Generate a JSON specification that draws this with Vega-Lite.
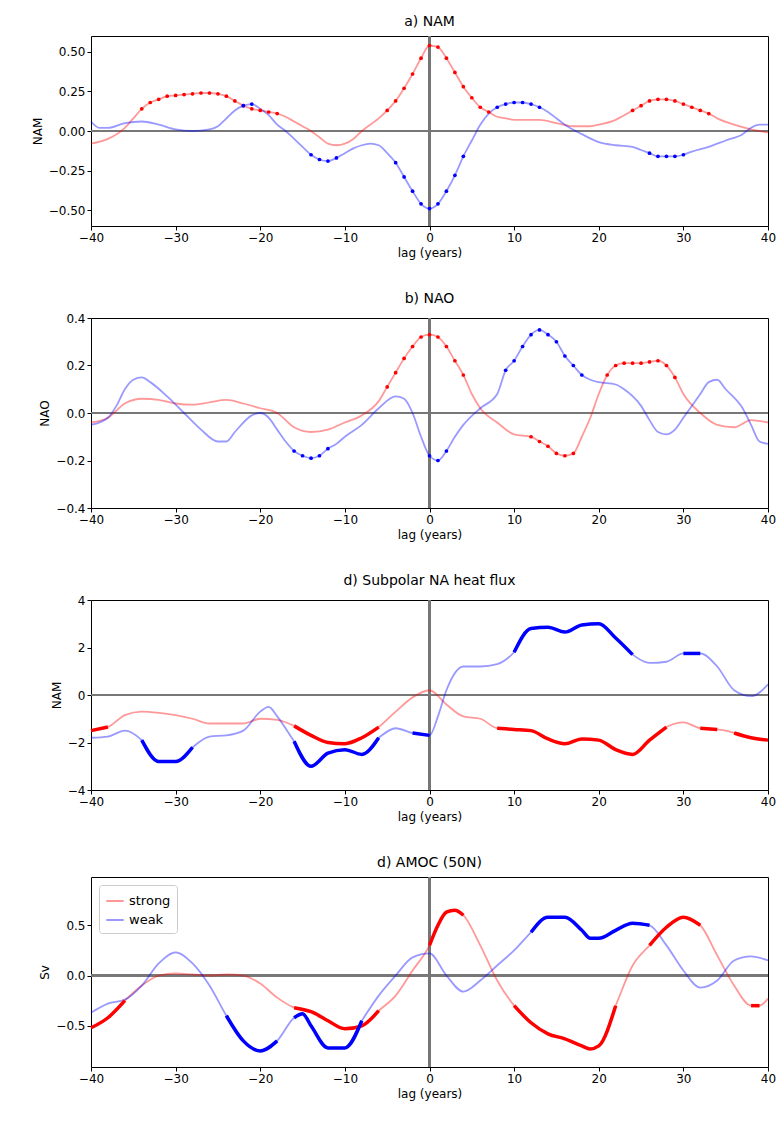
{
"$schema": "https://vega.github.io/schema/vega-lite/v6.json",
"padding": {"left": 30, "top": 14, "right": 5, "bottom": 5},
"config": {"font": "DejaVu Sans", "view": {"stroke": "black"}, "axis": {"grid": false, "domain": false, "tickColor": "black", "labelColor": "black", "titleColor": "black", "labelFontSize": 12, "titleFontSize": 12, "titleFontWeight": "normal", "tickSize": 4, "labelFlush": false}, "title": {"fontSize": 14, "fontWeight": "normal", "offset": 6}, "concat": {"spacing": 32}, "scale": {"continuousPadding": 0}},
"resolve": {"scale": {"color": "independent"}},
"datasets": {
"d1": [
{"g":"strong","x":-40,"y":-0.08},{"g":"strong","x":-38,"y":-0.05},{"g":"strong","x":-36,"y":0.02},{"g":"strong","x":-35,"y":0.08},
{"g":"strong","x":-34,"y":0.14,"s":1},{"g":"strong","x":-33,"y":0.18,"s":1},{"g":"strong","x":-32,"y":0.2,"s":1},{"g":"strong","x":-31,"y":0.22,"s":1},{"g":"strong","x":-30,"y":0.225,"s":1},{"g":"strong","x":-29,"y":0.23,"s":1},{"g":"strong","x":-28,"y":0.235,"s":1},{"g":"strong","x":-27,"y":0.24,"s":1},{"g":"strong","x":-26,"y":0.24,"s":1},{"g":"strong","x":-25,"y":0.235,"s":1},{"g":"strong","x":-24,"y":0.22,"s":1},{"g":"strong","x":-23,"y":0.19,"s":1},{"g":"strong","x":-22,"y":0.16,"s":1},{"g":"strong","x":-21,"y":0.14,"s":1},{"g":"strong","x":-20,"y":0.13,"s":1},{"g":"strong","x":-19,"y":0.12,"s":1},{"g":"strong","x":-18,"y":0.11,"s":1},
{"g":"strong","x":-17,"y":0.09},{"g":"strong","x":-16,"y":0.06},{"g":"strong","x":-15,"y":0.03},{"g":"strong","x":-14,"y":0.0},{"g":"strong","x":-13,"y":-0.04},{"g":"strong","x":-12,"y":-0.08},{"g":"strong","x":-11,"y":-0.09},{"g":"strong","x":-10,"y":-0.08},{"g":"strong","x":-9,"y":-0.05},{"g":"strong","x":-8,"y":0.0},{"g":"strong","x":-7,"y":0.04},{"g":"strong","x":-6,"y":0.08},
{"g":"strong","x":-5,"y":0.13,"s":1},{"g":"strong","x":-4,"y":0.19,"s":1},{"g":"strong","x":-3,"y":0.27,"s":1},{"g":"strong","x":-2,"y":0.36,"s":1},{"g":"strong","x":-1,"y":0.46,"s":1},{"g":"strong","x":0,"y":0.54,"s":1},{"g":"strong","x":1,"y":0.53,"s":1},{"g":"strong","x":2,"y":0.46,"s":1},{"g":"strong","x":3,"y":0.37,"s":1},{"g":"strong","x":4,"y":0.28,"s":1},{"g":"strong","x":5,"y":0.21,"s":1},{"g":"strong","x":6,"y":0.15,"s":1},{"g":"strong","x":7,"y":0.12,"s":1},
{"g":"strong","x":8,"y":0.09},{"g":"strong","x":9,"y":0.08},{"g":"strong","x":10,"y":0.07},{"g":"strong","x":13,"y":0.07},{"g":"strong","x":15,"y":0.05},{"g":"strong","x":17,"y":0.03},{"g":"strong","x":19,"y":0.03},{"g":"strong","x":20,"y":0.04},{"g":"strong","x":22,"y":0.07},{"g":"strong","x":23,"y":0.1},
{"g":"strong","x":24,"y":0.13,"s":1},{"g":"strong","x":25,"y":0.16,"s":1},{"g":"strong","x":26,"y":0.19,"s":1},{"g":"strong","x":27,"y":0.2,"s":1},{"g":"strong","x":28,"y":0.2,"s":1},{"g":"strong","x":29,"y":0.19,"s":1},{"g":"strong","x":30,"y":0.17,"s":1},{"g":"strong","x":31,"y":0.15,"s":1},{"g":"strong","x":32,"y":0.13,"s":1},{"g":"strong","x":33,"y":0.11,"s":1},
{"g":"strong","x":34,"y":0.08},{"g":"strong","x":36,"y":0.04},{"g":"strong","x":38,"y":0.01},{"g":"strong","x":40,"y":-0.01},
{"g":"weak","x":-40,"y":0.06},{"g":"weak","x":-39,"y":0.02},{"g":"weak","x":-38,"y":0.02},{"g":"weak","x":-36,"y":0.05},{"g":"weak","x":-34,"y":0.06},{"g":"weak","x":-32,"y":0.04},{"g":"weak","x":-30,"y":0.01},{"g":"weak","x":-28,"y":0.0},{"g":"weak","x":-26,"y":0.01},{"g":"weak","x":-25,"y":0.03},{"g":"weak","x":-24,"y":0.08},{"g":"weak","x":-23,"y":0.13},
{"g":"weak","x":-22,"y":0.16,"s":1},{"g":"weak","x":-21,"y":0.17,"s":1},
{"g":"weak","x":-20,"y":0.14},{"g":"weak","x":-19,"y":0.1},{"g":"weak","x":-18,"y":0.04},{"g":"weak","x":-17,"y":0.0},{"g":"weak","x":-16,"y":-0.05},{"g":"weak","x":-15,"y":-0.1},
{"g":"weak","x":-14,"y":-0.15,"s":1},{"g":"weak","x":-13,"y":-0.18,"s":1},{"g":"weak","x":-12,"y":-0.19,"s":1},{"g":"weak","x":-11,"y":-0.17,"s":1},
{"g":"weak","x":-10,"y":-0.14},{"g":"weak","x":-9,"y":-0.11},{"g":"weak","x":-8,"y":-0.09},{"g":"weak","x":-7,"y":-0.08},{"g":"weak","x":-6,"y":-0.09},{"g":"weak","x":-5,"y":-0.14},
{"g":"weak","x":-4,"y":-0.2,"s":1},{"g":"weak","x":-3,"y":-0.29,"s":1},{"g":"weak","x":-2,"y":-0.38,"s":1},{"g":"weak","x":-1,"y":-0.46,"s":1},{"g":"weak","x":0,"y":-0.49,"s":1},{"g":"weak","x":1,"y":-0.46,"s":1},{"g":"weak","x":2,"y":-0.38,"s":1},{"g":"weak","x":3,"y":-0.28,"s":1},{"g":"weak","x":4,"y":-0.16,"s":1},
{"g":"weak","x":5,"y":-0.06},{"g":"weak","x":6,"y":0.04},{"g":"weak","x":7,"y":0.11},
{"g":"weak","x":8,"y":0.15,"s":1},{"g":"weak","x":9,"y":0.17,"s":1},{"g":"weak","x":10,"y":0.18,"s":1},{"g":"weak","x":11,"y":0.18,"s":1},{"g":"weak","x":12,"y":0.17,"s":1},{"g":"weak","x":13,"y":0.15,"s":1},
{"g":"weak","x":14,"y":0.12},{"g":"weak","x":15,"y":0.08},{"g":"weak","x":16,"y":0.04},{"g":"weak","x":18,"y":-0.02},{"g":"weak","x":20,"y":-0.07},{"g":"weak","x":22,"y":-0.09},{"g":"weak","x":24,"y":-0.1},{"g":"weak","x":25,"y":-0.12},
{"g":"weak","x":26,"y":-0.14,"s":1},{"g":"weak","x":27,"y":-0.16,"s":1},{"g":"weak","x":28,"y":-0.16,"s":1},{"g":"weak","x":29,"y":-0.16,"s":1},{"g":"weak","x":30,"y":-0.15,"s":1},
{"g":"weak","x":31,"y":-0.13},{"g":"weak","x":33,"y":-0.1},{"g":"weak","x":35,"y":-0.06},{"g":"weak","x":37,"y":-0.02},{"g":"weak","x":38,"y":0.02},{"g":"weak","x":39,"y":0.04},{"g":"weak","x":40,"y":0.04}
],
"d2": [
{"g":"strong","x":-40,"y":-0.04},{"g":"strong","x":-38,"y":-0.02},{"g":"strong","x":-36,"y":0.04},{"g":"strong","x":-34,"y":0.06},{"g":"strong","x":-32,"y":0.055},{"g":"strong","x":-30,"y":0.04},{"g":"strong","x":-28,"y":0.035},{"g":"strong","x":-26,"y":0.045},{"g":"strong","x":-24,"y":0.055},{"g":"strong","x":-22,"y":0.04},{"g":"strong","x":-20,"y":0.02},{"g":"strong","x":-18,"y":0.0},{"g":"strong","x":-16,"y":-0.06},{"g":"strong","x":-14,"y":-0.08},{"g":"strong","x":-12,"y":-0.07},{"g":"strong","x":-10,"y":-0.04},{"g":"strong","x":-8,"y":-0.01},{"g":"strong","x":-6,"y":0.05},
{"g":"strong","x":-5,"y":0.11,"s":1},{"g":"strong","x":-4,"y":0.17,"s":1},{"g":"strong","x":-3,"y":0.23,"s":1},{"g":"strong","x":-2,"y":0.28,"s":1},{"g":"strong","x":-1,"y":0.32,"s":1},{"g":"strong","x":0,"y":0.33,"s":1},{"g":"strong","x":1,"y":0.32,"s":1},{"g":"strong","x":2,"y":0.28,"s":1},{"g":"strong","x":3,"y":0.22,"s":1},{"g":"strong","x":4,"y":0.16,"s":1},
{"g":"strong","x":5,"y":0.08},{"g":"strong","x":6,"y":0.02},{"g":"strong","x":8,"y":-0.04},{"g":"strong","x":10,"y":-0.09},
{"g":"strong","x":12,"y":-0.1,"s":1},{"g":"strong","x":13,"y":-0.12,"s":1},{"g":"strong","x":14,"y":-0.14,"s":1},{"g":"strong","x":15,"y":-0.17,"s":1},{"g":"strong","x":16,"y":-0.18,"s":1},{"g":"strong","x":17,"y":-0.17,"s":1},
{"g":"strong","x":18,"y":-0.1},{"g":"strong","x":19,"y":-0.02},{"g":"strong","x":20,"y":0.08},
{"g":"strong","x":21,"y":0.16,"s":1},{"g":"strong","x":22,"y":0.2,"s":1},{"g":"strong","x":23,"y":0.21,"s":1},{"g":"strong","x":24,"y":0.21,"s":1},{"g":"strong","x":25,"y":0.21,"s":1},{"g":"strong","x":26,"y":0.215,"s":1},{"g":"strong","x":27,"y":0.22,"s":1},{"g":"strong","x":28,"y":0.2,"s":1},{"g":"strong","x":29,"y":0.15,"s":1},
{"g":"strong","x":30,"y":0.08},{"g":"strong","x":32,"y":0.0},{"g":"strong","x":34,"y":-0.05},{"g":"strong","x":36,"y":-0.06},{"g":"strong","x":38,"y":-0.03},{"g":"strong","x":40,"y":-0.04},
{"g":"weak","x":-40,"y":-0.05},{"g":"weak","x":-38,"y":-0.02},{"g":"weak","x":-37,"y":0.03},{"g":"weak","x":-36,"y":0.1},{"g":"weak","x":-35,"y":0.14},{"g":"weak","x":-34,"y":0.15},{"g":"weak","x":-33,"y":0.13},{"g":"weak","x":-31,"y":0.07},{"g":"weak","x":-29,"y":0.0},{"g":"weak","x":-27,"y":-0.07},{"g":"weak","x":-25,"y":-0.12},{"g":"weak","x":-24,"y":-0.12},{"g":"weak","x":-23,"y":-0.08},{"g":"weak","x":-21,"y":-0.01},{"g":"weak","x":-20,"y":0.0},{"g":"weak","x":-19,"y":-0.02},{"g":"weak","x":-18,"y":-0.07},{"g":"weak","x":-17,"y":-0.12},
{"g":"weak","x":-16,"y":-0.16,"s":1},{"g":"weak","x":-15,"y":-0.18,"s":1},{"g":"weak","x":-14,"y":-0.19,"s":1},{"g":"weak","x":-13,"y":-0.18,"s":1},{"g":"weak","x":-12,"y":-0.15,"s":1},
{"g":"weak","x":-11,"y":-0.13},{"g":"weak","x":-10,"y":-0.1},{"g":"weak","x":-8,"y":-0.05},{"g":"weak","x":-6,"y":0.02},{"g":"weak","x":-4,"y":0.07},{"g":"weak","x":-3,"y":0.06},{"g":"weak","x":-2,"y":0.0},{"g":"weak","x":-1,"y":-0.1},
{"g":"weak","x":0,"y":-0.18,"s":1},{"g":"weak","x":1,"y":-0.2,"s":1},{"g":"weak","x":2,"y":-0.16,"s":1},
{"g":"weak","x":3,"y":-0.1},{"g":"weak","x":4,"y":-0.05},{"g":"weak","x":6,"y":0.02},{"g":"weak","x":8,"y":0.08},
{"g":"weak","x":9,"y":0.18,"s":1},{"g":"weak","x":10,"y":0.22,"s":1},{"g":"weak","x":11,"y":0.28,"s":1},{"g":"weak","x":12,"y":0.33,"s":1},{"g":"weak","x":13,"y":0.35,"s":1},{"g":"weak","x":14,"y":0.33,"s":1},{"g":"weak","x":15,"y":0.3,"s":1},{"g":"weak","x":16,"y":0.24,"s":1},{"g":"weak","x":17,"y":0.2,"s":1},{"g":"weak","x":18,"y":0.16,"s":1},
{"g":"weak","x":19,"y":0.14},{"g":"weak","x":20,"y":0.13},{"g":"weak","x":22,"y":0.12},{"g":"weak","x":23,"y":0.1},{"g":"weak","x":25,"y":0.03},{"g":"weak","x":26,"y":-0.03},{"g":"weak","x":27,"y":-0.08},{"g":"weak","x":28,"y":-0.09},{"g":"weak","x":29,"y":-0.07},{"g":"weak","x":30,"y":-0.02},{"g":"weak","x":32,"y":0.08},{"g":"weak","x":33,"y":0.13},{"g":"weak","x":34,"y":0.14},{"g":"weak","x":35,"y":0.1},{"g":"weak","x":37,"y":0.02},{"g":"weak","x":38,"y":-0.05},{"g":"weak","x":39,"y":-0.12},{"g":"weak","x":40,"y":-0.13}
],
"d3": [
{"g":"strong","x":-40,"y":-1.5,"s":"A"},{"g":"strong","x":-38,"y":-1.35,"s":"A"},{"g":"strong","x":-36,"y":-0.85},{"g":"strong","x":-34,"y":-0.7},{"g":"strong","x":-32,"y":-0.75},{"g":"strong","x":-30,"y":-0.85},{"g":"strong","x":-28,"y":-1.0},{"g":"strong","x":-26,"y":-1.2},{"g":"strong","x":-24,"y":-1.2},{"g":"strong","x":-22,"y":-1.2},{"g":"strong","x":-20,"y":-1.0},{"g":"strong","x":-18,"y":-1.05},
{"g":"strong","x":-16,"y":-1.3,"s":"B"},{"g":"strong","x":-14,"y":-1.7,"s":"B"},{"g":"strong","x":-12,"y":-2.0,"s":"B"},{"g":"strong","x":-10,"y":-2.05,"s":"B"},{"g":"strong","x":-8,"y":-1.8,"s":"B"},{"g":"strong","x":-6,"y":-1.35,"s":"B"},
{"g":"strong","x":-4,"y":-0.7},{"g":"strong","x":-2,"y":-0.1},{"g":"strong","x":0,"y":0.2},{"g":"strong","x":2,"y":-0.4},{"g":"strong","x":4,"y":-0.9},{"g":"strong","x":6,"y":-1.0},
{"g":"strong","x":8,"y":-1.4,"s":"C"},{"g":"strong","x":10,"y":-1.45,"s":"C"},{"g":"strong","x":12,"y":-1.5,"s":"C"},{"g":"strong","x":14,"y":-1.85,"s":"C"},{"g":"strong","x":16,"y":-2.05,"s":"C"},{"g":"strong","x":18,"y":-1.85,"s":"C"},{"g":"strong","x":20,"y":-1.9,"s":"C"},{"g":"strong","x":22,"y":-2.3,"s":"C"},{"g":"strong","x":24,"y":-2.5,"s":"C"},{"g":"strong","x":26,"y":-1.9,"s":"C"},{"g":"strong","x":28,"y":-1.35,"s":"C"},
{"g":"strong","x":30,"y":-1.15},{"g":"strong","x":32,"y":-1.4,"s":"D"},{"g":"strong","x":34,"y":-1.45,"s":"D"},{"g":"strong","x":35,"y":-1.5},
{"g":"strong","x":36,"y":-1.6,"s":"E"},{"g":"strong","x":38,"y":-1.8,"s":"E"},{"g":"strong","x":40,"y":-1.9,"s":"E"},
{"g":"weak","x":-40,"y":-1.8},{"g":"weak","x":-38,"y":-1.75},{"g":"weak","x":-36,"y":-1.5},
{"g":"weak","x":-34,"y":-1.9,"s":"a"},{"g":"weak","x":-32,"y":-2.8,"s":"a"},{"g":"weak","x":-30,"y":-2.8,"s":"a"},{"g":"weak","x":-28,"y":-2.2,"s":"a"},
{"g":"weak","x":-26,"y":-1.75},{"g":"weak","x":-24,"y":-1.7},{"g":"weak","x":-22,"y":-1.5},{"g":"weak","x":-20,"y":-0.7},{"g":"weak","x":-19,"y":-0.5},{"g":"weak","x":-18,"y":-0.9},
{"g":"weak","x":-16,"y":-1.95,"s":"b"},{"g":"weak","x":-14,"y":-3.0,"s":"b"},{"g":"weak","x":-12,"y":-2.45,"s":"b"},{"g":"weak","x":-10,"y":-2.3,"s":"b"},{"g":"weak","x":-8,"y":-2.5,"s":"b"},{"g":"weak","x":-6,"y":-1.8,"s":"b"},
{"g":"weak","x":-4,"y":-1.4},{"g":"weak","x":-2,"y":-1.6,"s":"c"},{"g":"weak","x":0,"y":-1.7,"s":"c"},{"g":"weak","x":1,"y":-0.9},{"g":"weak","x":2,"y":0.2},{"g":"weak","x":4,"y":1.2},{"g":"weak","x":6,"y":1.2},{"g":"weak","x":8,"y":1.3},
{"g":"weak","x":10,"y":1.8,"s":"d"},{"g":"weak","x":12,"y":2.8,"s":"d"},{"g":"weak","x":14,"y":2.85,"s":"d"},{"g":"weak","x":16,"y":2.65,"s":"d"},{"g":"weak","x":18,"y":2.95,"s":"d"},{"g":"weak","x":20,"y":3.0,"s":"d"},{"g":"weak","x":22,"y":2.4,"s":"d"},{"g":"weak","x":24,"y":1.7,"s":"d"},
{"g":"weak","x":26,"y":1.35},{"g":"weak","x":28,"y":1.4},{"g":"weak","x":30,"y":1.75,"s":"e"},{"g":"weak","x":32,"y":1.75,"s":"e"},{"g":"weak","x":34,"y":1.2},{"g":"weak","x":36,"y":0.2},{"g":"weak","x":38,"y":-0.05},{"g":"weak","x":40,"y":0.45}
],
"d4": [
{"g":"strong","x":-40,"y":-0.52,"s":"A"},{"g":"strong","x":-38,"y":-0.42,"s":"A"},{"g":"strong","x":-36,"y":-0.25,"s":"A"},{"g":"strong","x":-34,"y":-0.1},{"g":"strong","x":-32,"y":0.0},{"g":"strong","x":-30,"y":0.02},{"g":"strong","x":-28,"y":0.01},{"g":"strong","x":-26,"y":0.0},{"g":"strong","x":-24,"y":0.01},{"g":"strong","x":-22,"y":0.0},{"g":"strong","x":-20,"y":-0.08},{"g":"strong","x":-18,"y":-0.22},
{"g":"strong","x":-16,"y":-0.32,"s":"B"},{"g":"strong","x":-14,"y":-0.36,"s":"B"},{"g":"strong","x":-12,"y":-0.45,"s":"B"},{"g":"strong","x":-10,"y":-0.53,"s":"B"},{"g":"strong","x":-8,"y":-0.5,"s":"B"},{"g":"strong","x":-6,"y":-0.35,"s":"B"},
{"g":"strong","x":-4,"y":-0.2},{"g":"strong","x":-2,"y":0.05},
{"g":"strong","x":0,"y":0.3,"s":"C"},{"g":"strong","x":1,"y":0.5,"s":"C"},{"g":"strong","x":2,"y":0.63,"s":"C"},{"g":"strong","x":3,"y":0.65,"s":"C"},{"g":"strong","x":4,"y":0.6,"s":"C"},
{"g":"strong","x":6,"y":0.3},{"g":"strong","x":8,"y":-0.05},
{"g":"strong","x":10,"y":-0.3,"s":"D"},{"g":"strong","x":12,"y":-0.47,"s":"D"},{"g":"strong","x":14,"y":-0.58,"s":"D"},{"g":"strong","x":16,"y":-0.63,"s":"D"},{"g":"strong","x":18,"y":-0.7,"s":"D"},{"g":"strong","x":19,"y":-0.73,"s":"D"},{"g":"strong","x":20,"y":-0.7,"s":"D"},{"g":"strong","x":22,"y":-0.3,"s":"D"},
{"g":"strong","x":24,"y":0.1},
{"g":"strong","x":26,"y":0.3,"s":"E"},{"g":"strong","x":28,"y":0.48,"s":"E"},{"g":"strong","x":30,"y":0.58,"s":"E"},{"g":"strong","x":32,"y":0.5,"s":"E"},
{"g":"strong","x":34,"y":0.2},{"g":"strong","x":36,"y":-0.1},{"g":"strong","x":38,"y":-0.3,"s":"F"},{"g":"strong","x":39,"y":-0.3,"s":"F"},{"g":"strong","x":40,"y":-0.23},
{"g":"weak","x":-40,"y":-0.37},{"g":"weak","x":-38,"y":-0.28},{"g":"weak","x":-36,"y":-0.24},{"g":"weak","x":-34,"y":-0.1},{"g":"weak","x":-32,"y":0.12},{"g":"weak","x":-30,"y":0.23},{"g":"weak","x":-28,"y":0.12},{"g":"weak","x":-26,"y":-0.1},
{"g":"weak","x":-24,"y":-0.4,"s":"a"},{"g":"weak","x":-22,"y":-0.65,"s":"a"},{"g":"weak","x":-20,"y":-0.75,"s":"a"},{"g":"weak","x":-18,"y":-0.65,"s":"a"},
{"g":"weak","x":-16,"y":-0.42,"s":"b"},{"g":"weak","x":-15,"y":-0.38,"s":"b"},{"g":"weak","x":-14,"y":-0.5,"s":"b"},{"g":"weak","x":-12,"y":-0.72,"s":"b"},{"g":"weak","x":-10,"y":-0.72,"s":"b"},{"g":"weak","x":-8,"y":-0.45,"s":"b"},
{"g":"weak","x":-6,"y":-0.2},{"g":"weak","x":-4,"y":0.0},{"g":"weak","x":-2,"y":0.18},{"g":"weak","x":0,"y":0.22},{"g":"weak","x":2,"y":0.0},{"g":"weak","x":4,"y":-0.16},{"g":"weak","x":6,"y":-0.05},{"g":"weak","x":8,"y":0.1},{"g":"weak","x":10,"y":0.25},
{"g":"weak","x":12,"y":0.43,"s":"c"},{"g":"weak","x":14,"y":0.58,"s":"c"},{"g":"weak","x":16,"y":0.58,"s":"c"},{"g":"weak","x":18,"y":0.45,"s":"c"},{"g":"weak","x":19,"y":0.37,"s":"c"},{"g":"weak","x":20,"y":0.37,"s":"c"},{"g":"weak","x":22,"y":0.45,"s":"c"},{"g":"weak","x":24,"y":0.52,"s":"c"},{"g":"weak","x":26,"y":0.5,"s":"c"},
{"g":"weak","x":28,"y":0.3},{"g":"weak","x":30,"y":0.05},{"g":"weak","x":32,"y":-0.12},{"g":"weak","x":34,"y":-0.05},{"g":"weak","x":36,"y":0.15},{"g":"weak","x":38,"y":0.19},{"g":"weak","x":40,"y":0.15}
]
},
"vconcat": [
{
"title": "a) NAM", "width": 677, "height": 190, "data": {"name": "d1"},
"layer": [
{"mark": {"type": "rule", "color": "#777", "strokeWidth": 1.5}, "encoding": {"y": {"datum": 0}}},
{"mark": {"type": "rule", "color": "#777", "strokeWidth": 1.5}, "encoding": {"x": {"datum": 0}}},
{"mark": {"type": "line", "opacity": 0.4, "strokeWidth": 1.8, "interpolate": "monotone"},
 "encoding": {
  "x": {"field": "x", "type": "quantitative", "scale": {"domain": [-40, 40], "nice": false, "padding": 0, "zero": false}, "axis": {"values": [-40,-30,-20,-10,0,10,20,30,40]}, "title": "lag (years)"},
  "y": {"field": "y", "type": "quantitative", "scale": {"domain": [-0.6, 0.6], "nice": false, "padding": 0}, "axis": {"values": [-0.5,-0.25,0,0.25,0.5], "format": ".2f"}, "title": "NAM"},
  "color": {"field": "g", "type": "nominal", "scale": {"domain": ["strong","weak"], "range": ["#ff0000","#0000ff"]}, "legend": null}}},
{"transform": [{"filter": "datum.s != null"}], "mark": {"type": "circle", "size": 14, "opacity": 1},
 "encoding": {"x": {"field": "x", "type": "quantitative"}, "y": {"field": "y", "type": "quantitative"},
  "color": {"field": "g", "type": "nominal", "scale": {"domain": ["strong","weak"], "range": ["#ff0000","#0000ff"]}, "legend": null}}}
]
},
{
"title": "b) NAO", "width": 677, "height": 190, "data": {"name": "d2"},
"layer": [
{"mark": {"type": "rule", "color": "#777", "strokeWidth": 1.5}, "encoding": {"y": {"datum": 0}}},
{"mark": {"type": "rule", "color": "#777", "strokeWidth": 1.5}, "encoding": {"x": {"datum": 0}}},
{"mark": {"type": "line", "opacity": 0.4, "strokeWidth": 1.8, "interpolate": "monotone"},
 "encoding": {
  "x": {"field": "x", "type": "quantitative", "scale": {"domain": [-40, 40], "nice": false, "padding": 0, "zero": false}, "axis": {"values": [-40,-30,-20,-10,0,10,20,30,40]}, "title": "lag (years)"},
  "y": {"field": "y", "type": "quantitative", "scale": {"domain": [-0.4, 0.4], "nice": false, "padding": 0}, "axis": {"values": [-0.4,-0.2,0,0.2,0.4], "format": ".1f"}, "title": "NAO"},
  "color": {"field": "g", "type": "nominal", "scale": {"domain": ["strong","weak"], "range": ["#ff0000","#0000ff"]}, "legend": null}}},
{"transform": [{"filter": "datum.s != null"}], "mark": {"type": "circle", "size": 14, "opacity": 1},
 "encoding": {"x": {"field": "x", "type": "quantitative"}, "y": {"field": "y", "type": "quantitative"},
  "color": {"field": "g", "type": "nominal", "scale": {"domain": ["strong","weak"], "range": ["#ff0000","#0000ff"]}, "legend": null}}}
]
},
{
"title": "d) Subpolar NA heat flux", "width": 677, "height": 190, "data": {"name": "d3"},
"layer": [
{"mark": {"type": "rule", "color": "#777", "strokeWidth": 1.5}, "encoding": {"y": {"datum": 0}}},
{"mark": {"type": "rule", "color": "#777", "strokeWidth": 1.5}, "encoding": {"x": {"datum": 0}}},
{"mark": {"type": "line", "opacity": 0.4, "strokeWidth": 1.8, "interpolate": "monotone"},
 "encoding": {
  "x": {"field": "x", "type": "quantitative", "scale": {"domain": [-40, 40], "nice": false, "padding": 0, "zero": false}, "axis": {"values": [-40,-30,-20,-10,0,10,20,30,40]}, "title": "lag (years)"},
  "y": {"field": "y", "type": "quantitative", "scale": {"domain": [-4, 4], "nice": false, "padding": 0}, "axis": {"values": [-4,-2,0,2,4]}, "title": "NAM"},
  "color": {"field": "g", "type": "nominal", "scale": {"domain": ["strong","weak"], "range": ["#ff0000","#0000ff"]}, "legend": null}}},
{"transform": [{"filter": "datum.s != null"}], "mark": {"type": "line", "strokeWidth": 3.5, "interpolate": "monotone"},
 "encoding": {"x": {"field": "x", "type": "quantitative"}, "y": {"field": "y", "type": "quantitative"}, "detail": {"field": "s"},
  "color": {"field": "g", "type": "nominal", "scale": {"domain": ["strong","weak"], "range": ["#ff0000","#0000ff"]}, "legend": null}}}
]
},
{
"title": "d) AMOC (50N)", "width": 677, "height": 190, "data": {"name": "d4"},
"layer": [
{"mark": {"type": "rule", "color": "#777", "strokeWidth": 1.5}, "encoding": {"y": {"datum": 0}}},
{"mark": {"type": "rule", "color": "#777", "strokeWidth": 1.5}, "encoding": {"x": {"datum": 0}}},
{"mark": {"type": "line", "opacity": 0.4, "strokeWidth": 1.8, "interpolate": "monotone"},
 "encoding": {
  "x": {"field": "x", "type": "quantitative", "scale": {"domain": [-40, 40], "nice": false, "padding": 0, "zero": false}, "axis": {"values": [-40,-30,-20,-10,0,10,20,30,40]}, "title": "lag (years)"},
  "y": {"field": "y", "type": "quantitative", "scale": {"domain": [-0.91, 0.98], "nice": false, "padding": 0}, "axis": {"values": [-0.5,0,0.5], "format": ".1f"}, "title": "Sv"},
  "color": {"field": "g", "type": "nominal", "title": null, "scale": {"domain": ["strong","weak"], "range": ["#ff0000","#0000ff"]},
   "legend": {"orient": "top-left", "symbolType": "stroke", "symbolOpacity": 0.4, "symbolStrokeWidth": 2, "symbolSize": 300, "labelFontSize": 13, "strokeColor": "#ccc", "fillColor": "white", "padding": 6, "cornerRadius": 3, "offset": 8}}}},
{"transform": [{"filter": "datum.s != null"}], "mark": {"type": "line", "strokeWidth": 3.5, "interpolate": "monotone"},
 "encoding": {"x": {"field": "x", "type": "quantitative"}, "y": {"field": "y", "type": "quantitative"}, "detail": {"field": "s"},
  "color": {"field": "g", "type": "nominal", "scale": {"domain": ["strong","weak"], "range": ["#ff0000","#0000ff"]}, "legend": null}}}
]
}
]
}
